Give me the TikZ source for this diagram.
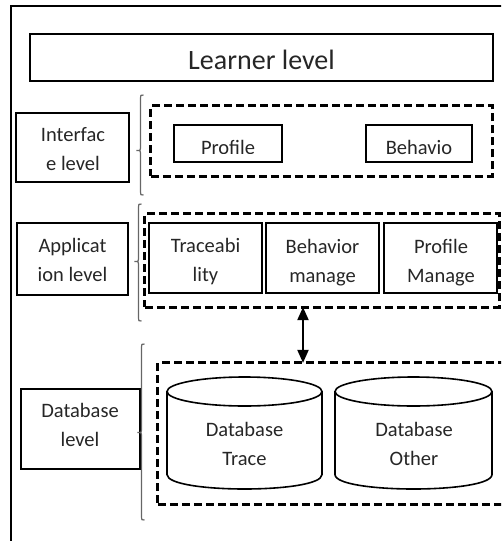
\documentclass[tikz,border=0pt]{standalone}
\usepackage{fontspec}
\setmainfont{Carlito}
\usetikzlibrary{arrows.meta}

% two centred lines, baseline of the node = baseline of the first line
\newcommand\twoline[2]{\vtop{\halign{\hfil##\hfil\cr#1\cr#2\cr}}}
% rectangle node given by its outer corners
\newcommand\boxat[6]{\node[#6, minimum width={#4-#2-1.8}, minimum height={#5-#3-1.8}] (#1) at ({(#2+#4)/2},{(#3+#5)/2}) {};}
% left bracket: x, top, middle, bottom
\newcommand\lbrk[4]{\draw[brk] (#1+3,#2) .. controls (#1,#2) .. (#1,#2+3) -- (#1,#3-2.5) .. controls (#1,#3) .. (#1-4,#3) .. controls (#1,#3) .. (#1,#3+2.5) -- (#1,#4-3) .. controls (#1,#4) .. (#1+3,#4);}
% cylinder: left, right, top centre y, bottom centre y, half height of the ellipse
\newcommand\dbcyl[5]{%
  \draw[cyl] ({(#1+#2)/2},#3) ellipse [x radius={(#2-#1)/2}, y radius=#5];
  \draw[cyl] (#1,#3) -- (#1,#4) .. controls (#1,#4+#5*4/3) and (#2,#4+#5*4/3) .. (#2,#4) -- (#2,#3);}

\tikzset{
  outerframe/.style={draw=black, line width=2pt},
  box/.style={draw=black, line width=1.8pt, inner sep=0pt, outer sep=0pt},
  dbox/.style={draw=black, line width=3pt, dash pattern=on 8pt off 4pt, inner sep=0pt, outer sep=0pt},
  txt/.style={font=\fontsize{20.5}{29}\selectfont, text=black!85, anchor=base, inner sep=0pt},
  bigtxt/.style={txt, font=\fontsize{28}{34}\selectfont},
  brk/.style={draw=black!60, line width=1.2pt},
  cyl/.style={draw=black, line width=1.6pt},
  arr/.style={line width=2pt, {Triangle[length=13pt,width=11pt]}-{Triangle[length=13pt,width=11pt]}},
}

\begin{document}
\begin{tikzpicture}[x=1pt,y=-1pt]
\useasboundingbox (0,0) rectangle (501,541);
\clip (0,0) rectangle (501,541);

% surrounding frame
\draw[outerframe] (11,560) -- (11,6) -- (520,6);

% learner level
\boxat{lrn}{29}{33}{494}{82}{box}
\node[bigtxt] (tlrn) at (261.5,69) {Learner level};

% interface level
\boxat{int}{15}{112}{130}{183}{box}
\node[txt] (tint) at (73,141) {\twoline{Interfac}{e level}};
\lbrk{140.5}{95}{150.5}{195}
\boxat{ifc}{150}{105}{493}{177}{dbox}
\boxat{prof}{173}{124}{283}{163}{box}
\boxat{beh}{365}{124}{473}{163}{box}
\begin{scope}
  \clip (173,124) rectangle (283,153.2);
  \node[txt] (tprof) at (228,154.5) {Profile};
\end{scope}
\node[txt] (tbeh) at (419,154) {Behavio};

% application level
\boxat{appl}{16}{222}{129}{296}{box}
\node[txt] (tapp) at (72.5,252.7) {\twoline{Applicat}{ion level}};
\lbrk{138.5}{204}{261.5}{321}
\boxat{app}{144}{213}{500}{308}{dbox}
\boxat{trc}{148}{222}{263}{294}{box}
\boxat{bmg}{265}{222}{380}{294}{box}
\boxat{pmg}{383}{222}{498}{294}{box}
\node[txt] (ttrc) at (205.5,252.7) {\twoline{Traceabi}{lity}};
\begin{scope}
  \clip (265,222) rectangle (498,285);
  \node[txt] (tbmg) at (322.5,253) {\twoline{Behavior}{manage}};
  \node[txt] (tpmg) at (441,253) {\twoline{Profile}{Manage}};
\end{scope}

% database level
\boxat{dbl}{20}{388}{141}{470}{box}
\node[txt] (tdbl) at (80,417.7) {\twoline{Database}{level}};
\lbrk{141.5}{344}{432.5}{520}
\boxat{dbc}{157}{362}{520}{505}{dbox}
\dbcyl{167}{322}{391.5}{474.5}{14.5}
\dbcyl{335}{492}{391.5}{474.5}{14.5}
\node[txt] (tdbt) at (244.5,436) {\twoline{Database}{Trace}};
\node[txt] (tdbo) at (414,436) {\twoline{Database}{Other}};

% link between application and database containers
\coordinate (ax) at (303,0);
\draw[arr] (ax |- app.south) -- (ax |- dbc.north);
\end{tikzpicture}
\end{document}
